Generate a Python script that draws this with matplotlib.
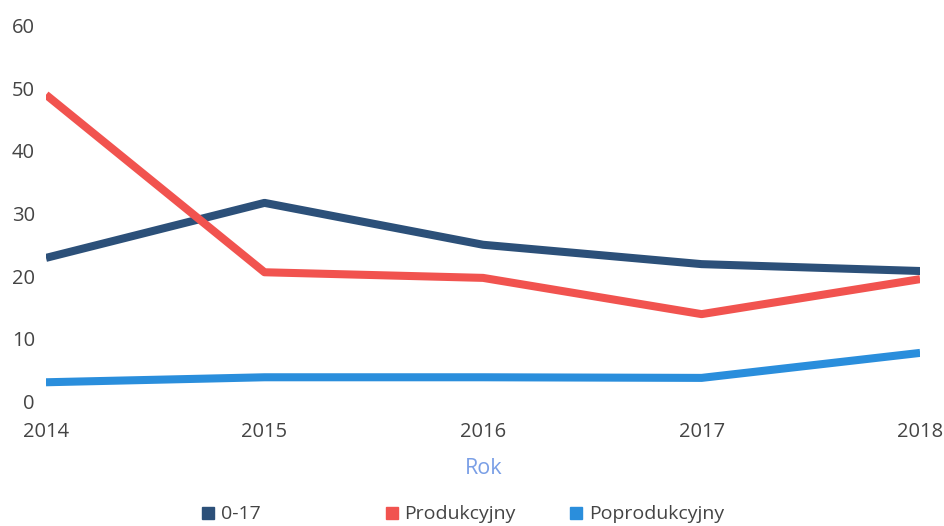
import matplotlib.pyplot as plt
from matplotlib.lines import Line2D

plt.rcParams['font.family'] = ['Open Sans', 'DejaVu Sans']

years = [2014, 2015, 2016, 2017, 2018]
age_0_17 = [22.9, 31.7, 25.0, 21.9, 20.8]
produkcyjny = [49.0, 20.6, 19.7, 13.9, 19.5]
poprodukcyjny = [3.0, 3.8, 3.8, 3.7, 7.7]
labels = ['0-17', 'Produkcyjny', 'Poprodukcyjny']
colors = ['#2c5079', '#f1534f', '#2a8edc']

fig = plt.figure(figsize=(9.44, 5.26), dpi=100)
ax = fig.add_axes([0.0487, 0.2376, 0.926, 0.713])

for vals, col in zip([age_0_17, produkcyjny, poprodukcyjny], colors):
    ax.plot(years, vals, color=col, linewidth=5.8, solid_capstyle='butt', solid_joinstyle='round')

ax.set_xlim(2014, 2018)
ax.set_ylim(0, 60)
ax.set_xticks(years)
ax.set_yticks(range(0, 61, 10))
for s in ax.spines.values():
    s.set_visible(False)
ax.tick_params(length=0, labelsize=14.5, colors='#444444')
ax.tick_params(axis='y', pad=8)
ax.tick_params(axis='x', pad=15)

fig.text(0.512, 0.11, 'Rok', color='#7a9fe6', fontsize=15.5, ha='center', va='center')

# legend entries sit in equal-width slots, so one small legend per entry
for i, (lab, col) in enumerate(zip(labels, colors)):
    h = Line2D([], [], marker='s', linestyle='none', color=col, markersize=9)
    fig.legend([h], [lab], loc='center left', bbox_to_anchor=(0.213 + i * 0.195, 0.022),
               frameon=False, fontsize=14, handlelength=0.7, handletextpad=0.3,
               borderpad=0, borderaxespad=0, labelcolor='#444444')

fig.savefig('out.png', dpi=100, facecolor='white')
